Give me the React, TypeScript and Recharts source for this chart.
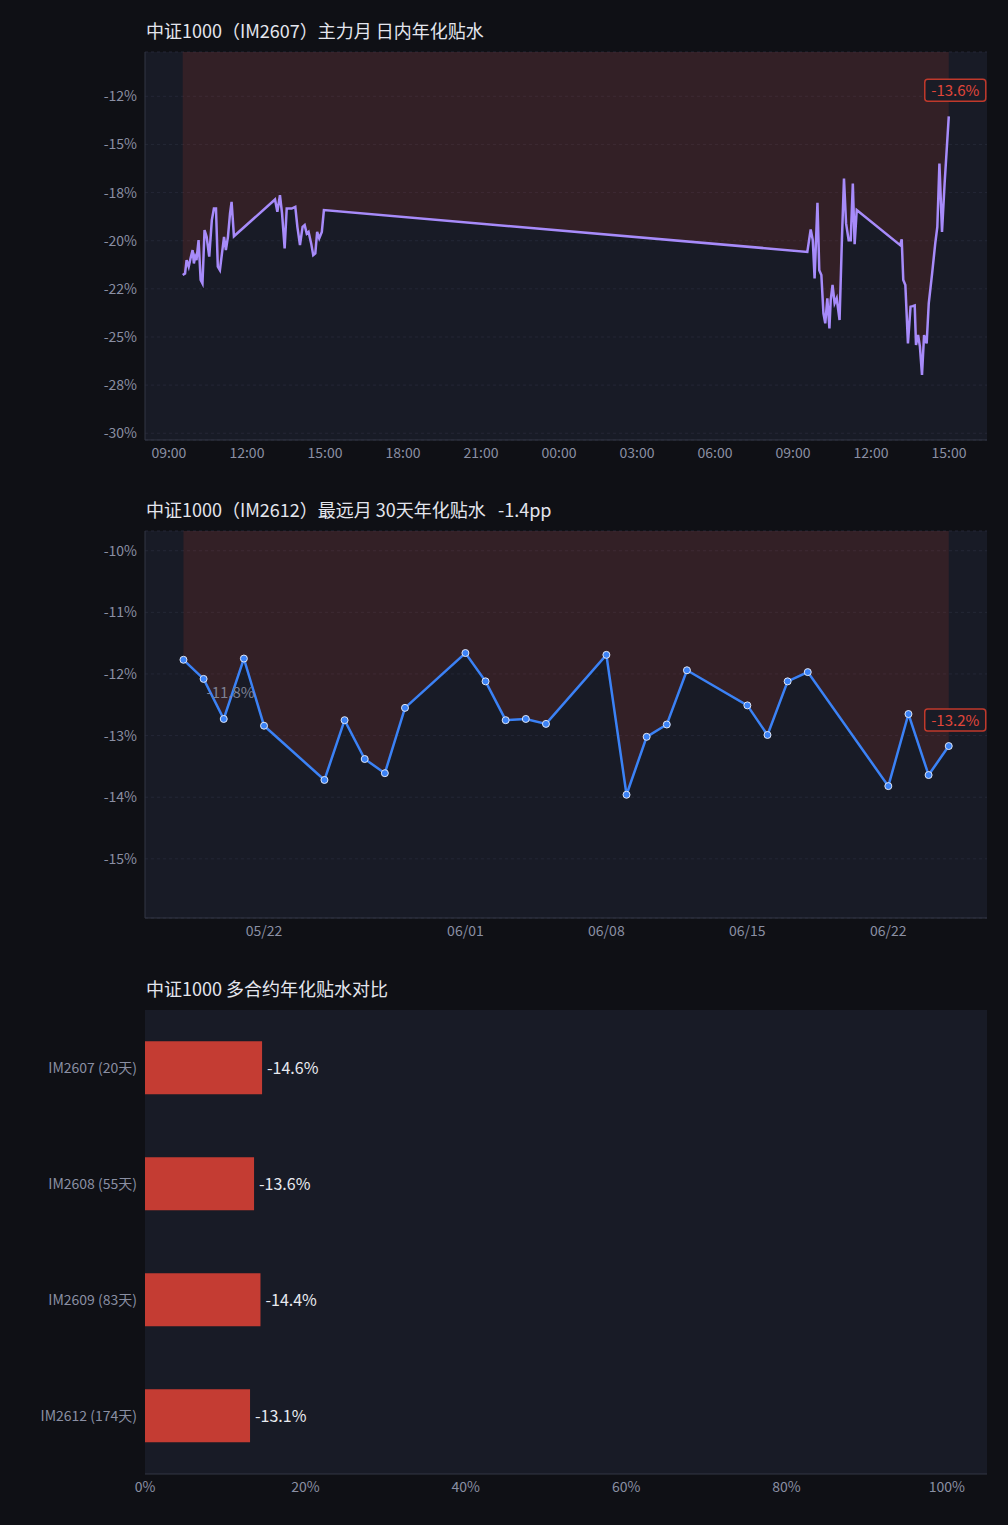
import React from 'react';
import {
  ComposedChart, Line, Area, XAxis, YAxis, CartesianGrid, ReferenceDot, BarChart, Bar, LabelList,
} from 'recharts';

// 主力月 intraday: hours since day-1 09:00
const intradayHours = [
  0.53, 0.62, 0.68, 0.76, 0.83, 0.91, 0.96, 1.01, 1.06, 1.14, 1.22, 1.29, 1.37, 1.45, 1.55, 1.65, 1.73, 1.81,
  1.88, 1.96, 2.04, 2.12, 2.19, 2.27, 2.35, 2.41, 2.5,
  4.08, 4.17, 4.27, 4.35, 4.45, 4.53, 4.72, 4.86, 4.94, 5.04, 5.14, 5.22, 5.3, 5.37, 5.47, 5.55, 5.63, 5.7,
  5.78, 5.88, 5.96,
  24.55, 24.68, 24.76, 24.83, 24.94, 25.01, 25.09, 25.17, 25.24, 25.32, 25.4, 25.45, 25.52, 25.6, 25.68,
  25.79, 25.88, 25.96, 26.04, 26.14, 26.22, 26.3, 26.37, 26.45,
  28.12, 28.18, 28.24, 28.32, 28.42, 28.52, 28.6, 28.68, 28.73, 28.81, 28.88, 28.96, 29.04, 29.14, 29.22,
  29.35, 29.47, 29.55, 29.63, 29.73, 29.83, 29.99,
];
const intradayValues = [
  -21.78, -21.7, -21.01, -21.35, -20.92, -20.49, -21.18, -20.83, -21.01, -19.97, -22.04, -22.22, -19.45, -19.8,
  -20.83, -18.93, -18.33, -18.33, -21.35, -21.53, -20.66, -19.8, -20.49, -19.8, -18.58, -17.98, -19.77,
  -17.86, -18.5, -17.64, -18.58, -20.4, -18.33, -18.33, -18.24, -19.28, -20.23, -19.28, -19.19, -19.63,
  -19.54, -20.14, -20.75, -20.66, -19.54, -19.88, -19.54, -18.41,
  -20.58, -19.42, -19.97, -21.96, -18.03, -21.53, -21.78, -23.77, -24.29, -22.99, -24.55, -23.08, -22.3,
  -23.25, -22.99, -24.12, -19.97, -16.77, -19.1, -19.97, -19.97, -17.03, -20.18, -18.41,
  -20.23, -19.93, -22.04, -22.3, -25.33, -23.43, -23.4, -23.36, -25.42, -24.9, -25.5, -26.97, -24.9,
  -25.33, -23.25, -21.7, -20.14, -19.28, -15.99, -19.54, -17.03, -13.54,
];
const intradayTicks = [0, 3, 6, 9, 12, 15, 18, 21, 24, 27, 30];
const intradayTickLabels = ['09:00', '12:00', '15:00', '18:00', '21:00', '00:00', '03:00', '06:00', '09:00', '12:00', '15:00'];
const intradayYTicks = [-12.5, -15, -17.5, -20, -22.5, -25, -27.5, -30];
const intradayYLabels = ['-12%', '-15%', '-18%', '-20%', '-22%', '-25%', '-28%', '-30%'];

// 最远月 30 days: day-of-month counted from 05/01 = 1
const farDays = [18, 19, 20, 21, 22, 25, 26, 27, 28, 29, 32, 33, 34, 35, 36, 39, 40, 41, 42, 43, 46, 47, 48, 49, 53, 54, 55, 56];
const farValues = [
  -11.77, -12.08, -12.73, -11.75, -12.84, -13.72, -12.75, -13.38, -13.61, -12.55, -11.66, -12.12, -12.75, -12.73,
  -12.81, -11.69, -13.96, -13.02, -12.82, -11.94, -12.51, -12.99, -12.12, -11.97, -13.82, -12.65, -13.64, -13.17,
];
const farTicks = [22, 32, 39, 46, 53];
const farTickLabels = ['05/22', '06/01', '06/08', '06/15', '06/22'];
const farYTicks = [-10, -11, -12, -13, -14, -15];

const contracts = ['IM2607 (20天)', 'IM2608 (55天)', 'IM2609 (83天)', 'IM2612 (174天)'];
const contractDiscount = [14.6, 13.6, 14.4, 13.1];

const intradayData = intradayHours.map((h, i) => ({ h, v: intradayValues[i] }));
const farData = farDays.map((d, i) => ({ d, v: farValues[i] }));
const barData = contracts.map((name, i) => ({ name, v: contractDiscount[i] }));

const BG = '#0f1015';
const PLOT = '#181b26';
const AXIS = '#333644';
const TICK = { fill: '#8a8fa3', fontSize: 14 };
const RED = '#c0392b';
const FONT = '"Noto Sans CJK SC", "Noto Sans", sans-serif';

const titleStyle: React.CSSProperties = {
  position: 'absolute', left: 146, fontSize: 18, color: '#e4e6ee', whiteSpace: 'pre',
};

const badge = (text: string) => (props: any) => {
  const vb = props.viewBox || {};
  const cx = vb.x + (vb.width || 0) / 2;
  const cy = vb.y + (vb.height || 0) / 2;
  return (
    <g>
      <rect x={cx - 24} y={cy - 37} width={61} height={22} rx={3} fill="#1a1c26" stroke={RED} strokeWidth={1.5} />
      <text x={cx + 6.5} y={cy - 20.5} textAnchor="middle" fill="#e0463a" fontSize={15}>{text}</text>
    </g>
  );
};

export default function App() {
  return (
    <div style={{ position: 'absolute', left: 0, top: 0, width: 1008, height: 1525, background: BG, fontFamily: FONT }}>
      <div style={{ ...titleStyle, top: 17 }}>中证1000（IM2607）主力月 日内年化贴水</div>
      <div style={{ position: 'absolute', left: 0, top: 0 }}>
        <ComposedChart width={1008} height={470} data={intradayData} margin={{ top: 52, right: 21, left: 0, bottom: 0 }}>
          <CartesianGrid vertical={false} stroke="#242736" strokeDasharray="3 3" fill={PLOT} />
          <XAxis dataKey="h" type="number" domain={[-0.92, 31.46]} ticks={intradayTicks} height={30}
            tickFormatter={(v: number) => intradayTickLabels[intradayTicks.indexOf(v)] ?? ''}
            tick={TICK} stroke={AXIS} tickLine={false} />
          <YAxis type="number" domain={[-30.35, -10.2]} ticks={intradayYTicks} width={145}
            tickFormatter={(v: number) => intradayYLabels[intradayYTicks.indexOf(v)] ?? ''}
            tick={TICK} stroke={AXIS} tickLine={false} allowDataOverflow />
          <Area dataKey="v" type="linear" baseValue={-10.2} fill={RED} fillOpacity={0.17} stroke="none" isAnimationActive={false} />
          <Line dataKey="v" type="linear" stroke="#a78bfa" strokeWidth={2.5} dot={false} isAnimationActive={false} />
          <ReferenceDot x={29.99} y={-13.54} r={0} fill="none" stroke="none" label={{ content: badge('-13.6%') }} />
        </ComposedChart>
      </div>

      <div style={{ ...titleStyle, top: 496 }}>中证1000（IM2612）最远月 30天年化贴水   -1.4pp</div>
      <div style={{ position: 'absolute', left: 0, top: 480 }}>
        <ComposedChart width={1008} height={468} data={farData} margin={{ top: 51, right: 21, left: 0, bottom: 0 }}>
          <CartesianGrid vertical={false} stroke="#242736" strokeDasharray="3 3" fill={PLOT} />
          <XAxis dataKey="d" type="number" domain={[16.09, 57.9]} ticks={farTicks} height={30}
            tickFormatter={(v: number) => farTickLabels[farTicks.indexOf(v)] ?? ''}
            tick={TICK} stroke={AXIS} tickLine={false} />
          <YAxis type="number" domain={[-15.96, -9.68]} ticks={farYTicks} width={145}
            tickFormatter={(v: number) => `${v}%`} tick={TICK} stroke={AXIS} tickLine={false} allowDataOverflow />
          <Area dataKey="v" type="linear" baseValue={-9.68} fill={RED} fillOpacity={0.17} stroke="none" isAnimationActive={false} />
          <Line dataKey="v" type="linear" stroke="#3b82f6" strokeWidth={2.5}
            dot={{ r: 3.5, fill: '#3b82f6', stroke: '#dfe6f5', strokeWidth: 1 }} isAnimationActive={false} />
          <ReferenceDot x={18} y={-11.77} r={0} fill="none" stroke="none"
            label={{ value: '-11.8%', position: 'insideTopLeft', dx: 18, dy: 23, fill: '#7d8194', fontSize: 15 }} />
          <ReferenceDot x={56} y={-13.17} r={0} fill="none" stroke="none" label={{ content: badge('-13.2%') }} />
        </ComposedChart>
      </div>

      <div style={{ ...titleStyle, top: 975 }}>中证1000 多合约年化贴水对比</div>
      <div style={{ position: 'absolute', left: 0, top: 960 }}>
        <BarChart width={1008} height={544} data={barData} layout="vertical" barCategoryGap="27%"
          margin={{ top: 50, right: 21, left: 0, bottom: 0 }}>
          <CartesianGrid horizontal={false} vertical={false} fill={PLOT} />
          <XAxis type="number" domain={[0, 105]} ticks={[0, 20, 40, 60, 80, 100]} height={30}
            tickFormatter={(v: number) => `${v}%`} tick={TICK} stroke={AXIS} tickLine={false} />
          <YAxis type="category" dataKey="name" width={145} tick={TICK} stroke={AXIS} tickLine={false} axisLine={false} />
          <Bar dataKey="v" fill="#c43c33" isAnimationActive={false}>
            <LabelList dataKey="v" position="right" offset={5} fill="#e8eaf0" fontSize={16}
              formatter={(v: number) => `-${v}%`} />
          </Bar>
        </BarChart>
      </div>
    </div>
  );
}
